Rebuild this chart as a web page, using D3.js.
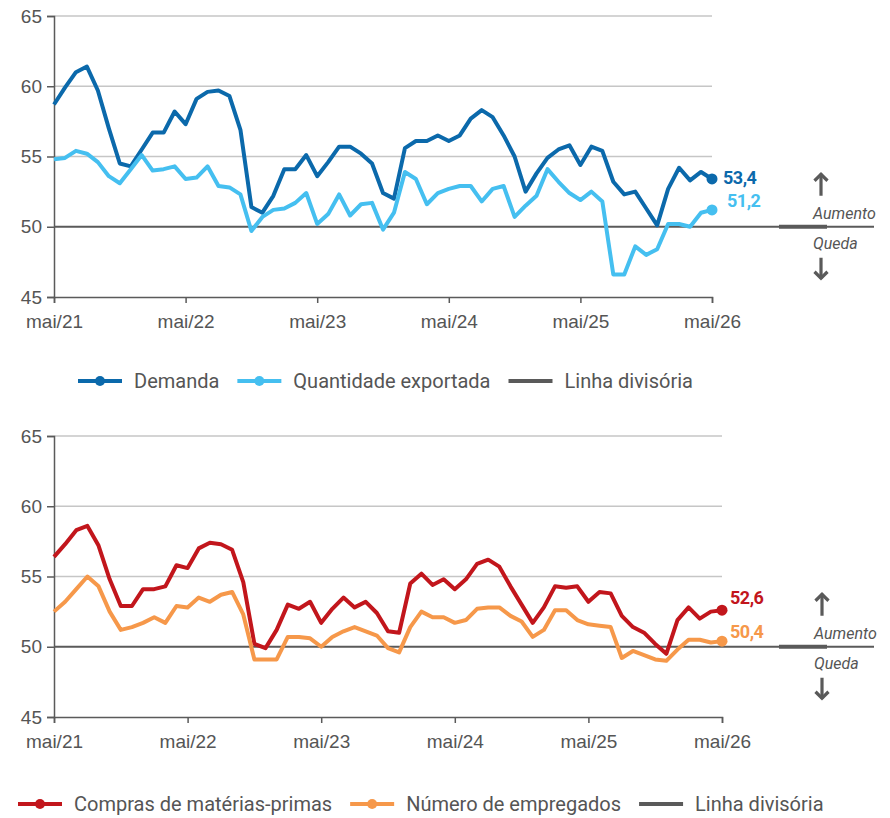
<!DOCTYPE html>
<html>
<head>
<meta charset="utf-8">
<script src="https://cdn.jsdelivr.net/npm/d3@7"></script>
<style>
  body { margin: 0; background: #fff; }
  svg { display: block; font-family: "Roboto", "Liberation Sans", sans-serif; }
</style>
</head>
<body>
<svg id="chart" width="890" height="818"></svg>
<script>
// month index 0 = mai/21 ... 60 = mai/26
var tickLabels = ["mai/21", "mai/22", "mai/23", "mai/24", "mai/25", "mai/26"];
var yTicks = [45, 50, 55, 60, 65];

var demanda = [58.7, 59.9, 61.0, 61.4, 59.7, 57.0, 54.5, 54.3, 55.5, 56.7, 56.7, 58.2, 57.3, 59.1, 59.6, 59.7,
  59.3, 56.9, 51.4, 51.0, 52.2, 54.1, 54.1, 55.1, 53.6, 54.6, 55.7, 55.7, 55.2, 54.5, 52.4, 52.0, 55.6, 56.1,
  56.1, 56.5, 56.1, 56.5, 57.7, 58.3, 57.8, 56.5, 55.0, 52.5, 53.8, 54.9, 55.5, 55.8, 54.4, 55.7, 55.4, 53.2,
  52.3, 52.5, 51.3, 50.1, 52.7, 54.2, 53.3, 53.9, 53.4];

var exportada = [54.8, 54.9, 55.4, 55.2, 54.6, 53.6, 53.1, 54.1, 55.1, 54.0, 54.1, 54.3, 53.4, 53.5, 54.3, 52.9,
  52.8, 52.3, 49.7, 50.7, 51.2, 51.3, 51.7, 52.4, 50.2, 50.9, 52.3, 50.8, 51.6, 51.7, 49.8, 51.0, 53.9, 53.4,
  51.6, 52.4, 52.7, 52.9, 52.9, 51.8, 52.7, 52.9, 50.7, 51.5, 52.2, 54.1, 53.2, 52.4, 51.9, 52.5, 51.8, 46.6,
  46.6, 48.6, 48.0, 48.4, 50.2, 50.2, 50.0, 51.0, 51.2];

var compras = [56.4, 57.3, 58.3, 58.6, 57.2, 54.8, 52.9, 52.9, 54.1, 54.1, 54.3, 55.8, 55.6, 57.0, 57.4, 57.3,
  56.9, 54.6, 50.2, 49.9, 51.2, 53.0, 52.7, 53.2, 51.7, 52.7, 53.5, 52.8, 53.2, 52.4, 51.1, 51.0, 54.5, 55.2,
  54.4, 54.8, 54.1, 54.8, 55.9, 56.2, 55.7, 54.3, 53.0, 51.7, 52.8, 54.3, 54.2, 54.3, 53.2, 53.9, 53.8, 52.2,
  51.4, 51.0, 50.2, 49.5, 51.9, 52.8, 52.0, 52.5, 52.6];

var empregados = [52.5, 53.2, 54.1, 55.0, 54.3, 52.5, 51.2, 51.4, 51.7, 52.1, 51.7, 52.9, 52.8, 53.5, 53.2, 53.7,
  53.9, 52.3, 49.1, 49.1, 49.1, 50.7, 50.7, 50.6, 50.0, 50.7, 51.1, 51.4, 51.1, 50.8, 49.9, 49.6, 51.4, 52.5,
  52.1, 52.1, 51.7, 51.9, 52.7, 52.8, 52.8, 52.2, 51.8, 50.7, 51.2, 52.6, 52.6, 51.9, 51.6, 51.5, 51.4, 49.2,
  49.7, 49.4, 49.1, 49.0, 49.8, 50.5, 50.5, 50.3, 50.4];

var gray = "#5a5a5a";
var svg = d3.select("#chart");

function drawPanel(p) {
  var x = d3.scaleLinear().domain([0, 60]).range([p.left, p.right]);
  var y = d3.scaleLinear().domain([45, 65]).range([p.bottom, p.top]);
  var g = svg.append("g");

  // gridlines
  g.selectAll(".grid").data([55, 60, 65]).enter().append("line")
    .attr("x1", p.left).attr("x2", p.right)
    .attr("y1", d => y(d)).attr("y2", d => y(d))
    .attr("stroke", "#c6c6c6").attr("stroke-width", 1.3);

  // y axis
  var yAxis = d3.axisLeft(y).tickValues(yTicks).tickSize(7).tickPadding(5);
  var ya = g.append("g").attr("transform", "translate(" + p.left + ",0)").call(yAxis);
  ya.select(".domain").attr("stroke", gray).attr("stroke-width", 1.5);
  ya.selectAll(".tick line").attr("stroke", gray).attr("stroke-width", 1.5);
  ya.selectAll("text").attr("fill", "#555").style("font-size", "19px");

  // x axis
  var xAxis = d3.axisBottom(x).tickValues([0, 12, 24, 36, 48, 60])
    .tickFormat((d, i) => tickLabels[i]).tickSize(6).tickPadding(12);
  var xa = g.append("g").attr("transform", "translate(0," + p.bottom + ")").call(xAxis);
  xa.select(".domain").attr("stroke", gray).attr("stroke-width", 1.5);
  xa.selectAll(".tick line").attr("stroke", gray).attr("stroke-width", 1.5);
  xa.selectAll("text").attr("fill", "#555").style("font-size", "19px");

  // dividing line at 50
  g.append("line").attr("x1", p.left).attr("x2", 874)
    .attr("y1", y(50)).attr("y2", y(50))
    .attr("stroke", gray).attr("stroke-width", 2.2);
  g.append("line").attr("x1", 779).attr("x2", 827)
    .attr("y1", y(50)).attr("y2", y(50))
    .attr("stroke", gray).attr("stroke-width", 4);

  var line = d3.line().x((d, i) => x(i)).y(d => y(d));

  p.series.forEach(function(s) {
    g.append("path").datum(s.values)
      .attr("d", line)
      .attr("fill", "none")
      .attr("stroke", s.color)
      .attr("stroke-width", 4)
      .attr("stroke-linejoin", "round");
    var last = s.values[s.values.length - 1];
    g.append("circle").attr("cx", x(60)).attr("cy", y(last)).attr("r", 5.5).attr("fill", s.color);
    g.append("text").attr("x", x(60) + s.lx).attr("y", y(last) + s.ly)
      .attr("dy", "0.35em")
      .attr("fill", s.color)
      .style("font-size", "18px").style("font-weight", "bold")
      .style("letter-spacing", "-0.5px")
      .text(d3.format(".1f")(last).replace(".", ","));
  });

  // Aumento / Queda
  var ax = p.arrowX, y50 = y(50);
  var arrows = g.append("g").attr("stroke", gray).attr("stroke-width", 3.2).attr("fill", "none");
  arrows.append("path").attr("d", "M" + ax + "," + (y50 - 31) + "V" + (y50 - 53));
  arrows.append("path").attr("d", "M" + (ax - 6.5) + "," + (y50 - 46) + "L" + ax + "," + (y50 - 52.5) + "L" + (ax + 6.5) + "," + (y50 - 46));
  arrows.append("path").attr("d", "M" + ax + "," + (y50 + 31) + "V" + (y50 + 52));
  arrows.append("path").attr("d", "M" + (ax - 6.5) + "," + (y50 + 45) + "L" + ax + "," + (y50 + 51.5) + "L" + (ax + 6.5) + "," + (y50 + 45));
  g.append("text").attr("x", ax - 8).attr("y", y50 - 8)
    .attr("fill", "#555").style("font-size", "16px").style("font-style", "italic").text("Aumento");
  g.append("text").attr("x", ax - 8).attr("y", y50 + 22)
    .attr("fill", "#555").style("font-size", "16px").style("font-style", "italic").text("Queda");

  // legend
  var lg = g.append("g").attr("transform", "translate(" + p.legendX + "," + p.legendY + ")");
  var cx = 0;
  p.legend.forEach(function(item) {
    lg.append("line").attr("x1", cx).attr("x2", cx + 44).attr("y1", 0).attr("y2", 0)
      .attr("stroke", item.color).attr("stroke-width", 4);
    if (item.dot) {
      lg.append("circle").attr("cx", cx + 22).attr("cy", 0).attr("r", 5).attr("fill", item.color);
    }
    var t = lg.append("text").attr("x", cx + 56).attr("y", 0).attr("dy", "0.35em")
      .attr("fill", "#555").style("font-size", "20px").text(item.label);
    cx += 56 + t.node().getComputedTextLength() + 18;
  });
}

drawPanel({
  left: 54, right: 712, top: 16, bottom: 297, arrowX: 821,
  legendX: 78, legendY: 381,
  series: [
    { values: demanda, color: "#0b69ab", lx: 11, ly: -1 },
    { values: exportada, color: "#45bff0", lx: 15, ly: -9 }
  ],
  legend: [
    { label: "Demanda", color: "#0b69ab", dot: true },
    { label: "Quantidade exportada", color: "#45bff0", dot: true },
    { label: "Linha divisória", color: gray, dot: false }
  ]
});

drawPanel({
  left: 54, right: 722, top: 436, bottom: 717, arrowX: 822,
  legendX: 18, legendY: 804,
  series: [
    { values: compras, color: "#c2161c", lx: 8, ly: -13 },
    { values: empregados, color: "#f6984a", lx: 8, ly: -9 }
  ],
  legend: [
    { label: "Compras de matérias-primas", color: "#c2161c", dot: true },
    { label: "Número de empregados", color: "#f6984a", dot: true },
    { label: "Linha divisória", color: gray, dot: false }
  ]
});
</script>
</body>
</html>
